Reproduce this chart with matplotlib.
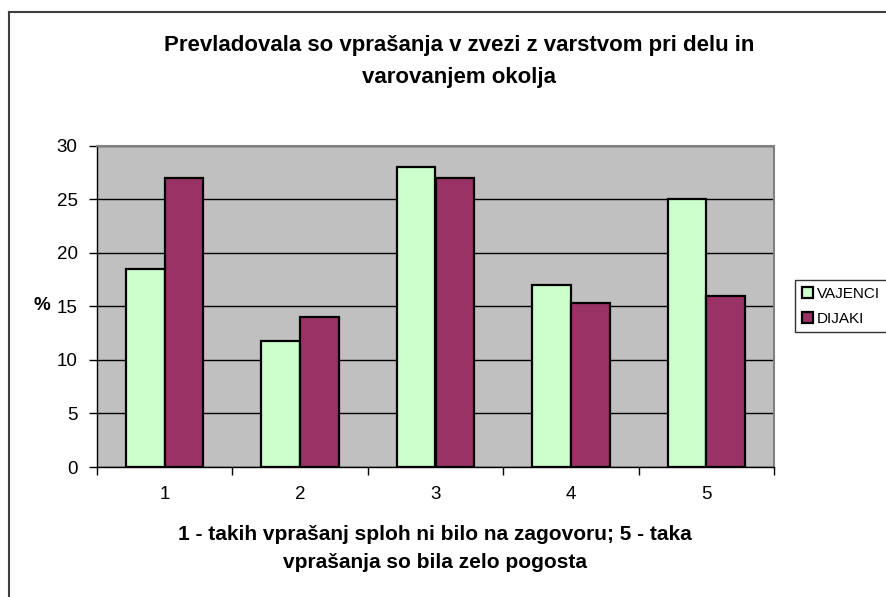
import matplotlib
matplotlib.use("Agg")
import matplotlib.pyplot as plt
from matplotlib.lines import Line2D
import numpy as np

categories = ["1", "2", "3", "4", "5"]
vajenci = [18.5, 11.8, 28, 17, 25]
dijaki = [27, 14, 27, 15.3, 16]
series_names = ["VAJENCI", "DIJAKI"]
yticks = [0, 5, 10, 15, 20, 25, 30]

plt.rcParams['font.family'] = ['Liberation Sans', 'DejaVu Sans']

W, H = 886, 597
fig = plt.figure(figsize=(W / 100, H / 100), dpi=100)
fig.patch.set_facecolor('white')

# outer chart frame (only left and top visible)
fig.add_artist(Line2D([9 / W, 9 / W], [0, 1 - 12 / H], transform=fig.transFigure, color='#404040', lw=1.5))
fig.add_artist(Line2D([9 / W, 1], [1 - 12 / H, 1 - 12 / H], transform=fig.transFigure, color='#404040', lw=1.5))

left, right, top, bottom = 97, 774, 145.5, 467
ax = fig.add_axes([left / W, 1 - bottom / H, (right - left) / W, (bottom - top) / H])
ax.set_facecolor('#C0C0C0')

x = np.arange(len(categories))
w = 1 / 3.5
ax.bar(x - w / 2, vajenci, w, color='#CCFFCC', edgecolor='black', linewidth=1.6, label=series_names[0], zorder=3)
ax.bar(x + w / 2, dijaki, w, color='#993366', edgecolor='black', linewidth=1.6, label=series_names[1], zorder=3)

ax.set_ylim(0, 30)
ax.set_xlim(-0.5, len(categories) - 0.5)
ax.set_yticks(yticks)
ax.yaxis.grid(True, color='black', linewidth=1, zorder=1)
ax.set_axisbelow(True)

ax.set_xticks(np.arange(-0.5, len(categories), 1.0))
ax.set_xticklabels([])
ax.set_xticks(x, minor=True)
ax.set_xticklabels(categories, minor=True)
ax.tick_params(axis='x', which='minor', length=0, pad=14, labelsize=13.5)
ax.tick_params(axis='x', which='major', length=6, width=1, direction='out')
ax.tick_params(axis='y', length=6, width=1, direction='out', labelsize=13.5, pad=8)

for s in ['top', 'right']:
    ax.spines[s].set_color('#808080')
    ax.spines[s].set_linewidth(1.5)
for s in ['left', 'bottom']:
    ax.spines[s].set_color('black')
    ax.spines[s].set_linewidth(1)

fig.text(459 / W, 1 - 45 / H, "Prevladovala so vprašanja v zvezi z varstvom pri delu in",
         ha='center', va='center', fontsize=16, fontweight='bold')
fig.text(459 / W, 1 - 77 / H, "varovanjem okolja",
         ha='center', va='center', fontsize=16, fontweight='bold')

fig.text(435 / W, 1 - 535 / H, "1 - takih vprašanj sploh ni bilo na zagovoru; 5 - taka",
         ha='center', va='center', fontsize=15, fontweight='bold')
fig.text(435 / W, 1 - 563 / H, "vprašanja so bila zelo pogosta",
         ha='center', va='center', fontsize=15, fontweight='bold')

fig.text(42 / W, 1 - 306 / H, "%", ha='center', va='center', fontsize=13.5, fontweight='bold')

leg = fig.legend(loc='upper left', bbox_to_anchor=(795 / W, 1 - 280 / H), frameon=True,
                 fancybox=False, edgecolor='black', fontsize=11, handlelength=0.7,
                 handleheight=0.7, handletextpad=0.3, borderpad=0.45, labelspacing=0.7,
                 borderaxespad=0)
leg.get_frame().set_linewidth(1)

fig.savefig('out.png', dpi=100)
